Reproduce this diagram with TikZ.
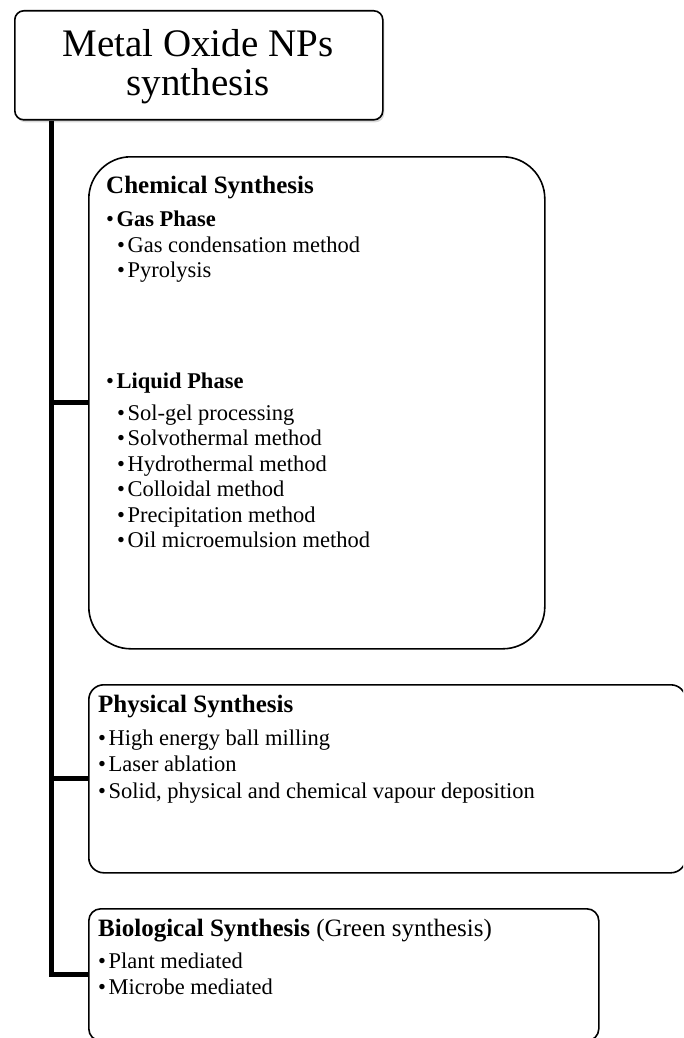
\documentclass[tikz,border=0pt]{standalone}
\usepackage{fontspec}
\setmainfont{Liberation Serif}
\usetikzlibrary{shadows}
\newcommand{\bul}{\textbullet\hspace{2.5pt}}
\begin{document}
\begin{tikzpicture}[x=1pt,y=-1pt,
  box/.style={draw=black, line width=1.6pt, fill=white, inner sep=0pt, anchor=north west},
  conn/.style={draw=black, line width=4.8pt, line join=miter},
  head/.style={anchor=base west, inner sep=0pt, font=\fontsize{25}{25}\selectfont},
  item/.style={anchor=base west, inner sep=0pt, font=\fontsize{22.5}{22.5}\selectfont},
  ttl/.style={anchor=base, inner sep=0pt, font=\fontsize{39}{39}\selectfont}
]
\useasboundingbox (0,0) rectangle (683,1038);
\clip (0,0) rectangle (683,1038);

% boxes
\node[box, rounded corners=9pt, minimum width=368pt, minimum height=109pt,
      drop shadow={shadow xshift=1.5pt, shadow yshift=-2.5pt, opacity=0.3}] (title) at (14,10) {};
\node[box, rounded corners=42pt, minimum width=456pt, minimum height=492pt] (chem) at (88,156) {};
\node[box, rounded corners=15pt, minimum width=597pt, minimum height=188pt] (phys) at (88,684) {};
\node[box, rounded corners=12pt, minimum width=510pt, minimum height=132pt] (bio) at (88,908) {};

% connectors
\path (title.south west) ++(37.5,0) coordinate (spine);
\draw[conn] (spine) |- (bio.west);
\draw[conn] (spine |- chem.west) -- (chem.west);
\draw[conn] (spine |- phys.west) -- (phys.west);

% title
\node[ttl] (t1) at (198,57) {Metal Oxide NPs};
\node[ttl] (t2) at (198,96) {synthesis};

% chemical
\node[head] (ch) at (106,193) {\textbf{Chemical Synthesis}};
\node[item] (c1) at (106,226) {\bul\textbf{Gas Phase}};
\node[item] (c2) at (117,252) {\bul Gas condensation method};
\node[item] (c3) at (117,277) {\bul Pyrolysis};
\node[item] (c4) at (106,388) {\bul\textbf{Liquid Phase}};
\node[item] (c5) at (117,420) {\bul Sol-gel processing};
\node[item] (c6) at (117,445.5) {\bul Solvothermal method};
\node[item] (c7) at (117,471) {\bul Hydrothermal method};
\node[item] (c8) at (117,496.5) {\bul Colloidal method};
\node[item] (c9) at (117,522) {\bul Precipitation method};
\node[item] (c10) at (117,547.5) {\bul Oil microemulsion method};

% physical
\node[head] (ph) at (98,712) {\textbf{Physical Synthesis}};
\node[item] (p1) at (98,745) {\bul High energy ball milling};
\node[item] (p2) at (98,771.5) {\bul Laser ablation};
\node[item] (p3) at (98,798) {\bul Solid, physical and chemical vapour deposition};

% biological
\node[head] (bh) at (98,936) {\textbf{Biological Synthesis} (Green synthesis)};
\node[item] (b1) at (98,968) {\bul Plant mediated};
\node[item] (b2) at (98,994) {\bul Microbe mediated};
\end{tikzpicture}
\end{document}
